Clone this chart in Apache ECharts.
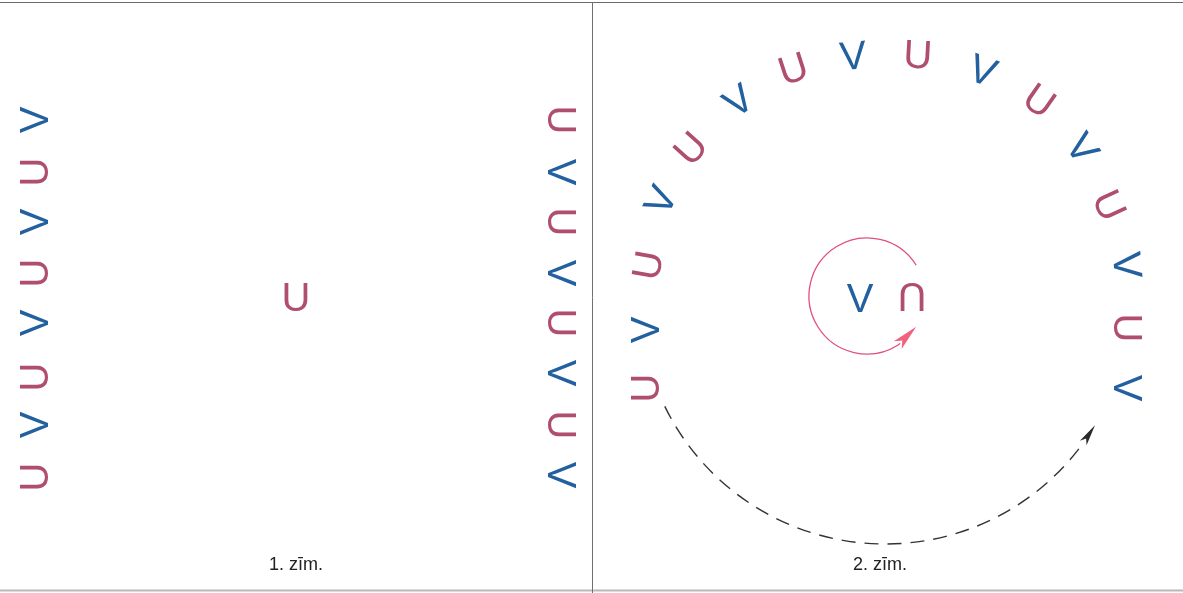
<!DOCTYPE html>
<html>
<head>
<meta charset="utf-8">
<script src="https://cdn.jsdelivr.net/npm/echarts@6/dist/echarts.min.js"></script>
<style>
html,body{margin:0;padding:0;background:#fff;}
#chart{width:1183px;height:593px;}
</style>
</head>
<body>
<div id="chart"></div>
<script>
// ---- Figure 1 ----
const fig1LeftLetters = ['V','U','V','U','V','U','V','U'];
const fig1LeftY = [120,172,222,273,323,377,425,477];
const fig1LeftX = 34;
const fig1LeftRotate = 90;

const fig1RightLetters = ['U','V','U','V','U','V','U','V'];
const fig1RightY = [120,172,222,273,323,373,425,475];
const fig1RightX = 562;
const fig1RightRotate = -90;

const fig1CenterLetters = ['U'];
const fig1CenterX = [296];
const fig1CenterY = [297];

// ---- Figure 2 ----
const ringLetters = ['U','V','U','V','U','V','U','V','U','V','U','V','U','V','U','V'];
const ringX = [645,645,647,660,690,738,793,853,918,983,1040,1083,1110,1128,1128,1128];
const ringY = [388,330,265,200,148,100,68,55,54,70,100,148,205,265,328,388];
const ringRotate = [90,90,80,65,48,35,18,5,-3,-20,-35,-55,-65,-85,-90,-90];

const innerLetters = ['V','U'];
const innerX = [860,912];
const innerY = [298,297];
const innerRotate = [0,180];

// arcs: centre, radius, start/end angle (deg, screen), arrow tip angle, arrow length angle
const arcCX = [867, 885];
const arcCY = [296, 299];
const arcR = [58, 245];
const arcStart = [-32, 154];
const arcEnd = [55, 36];
const arcTip = [32, 31];
const arcArrowSpan = [26, 5];
const arcKind = ['solid', 'dashed'];

const captions = ['1. zīm.', '2. zīm.'];
const captionX = [296, 880];
const captionY = [565, 565];

const BLUE = '#22609f';
const RED = '#b04e6e';

function letterItems(letters, xs, ys, rots) {
  return letters.map((l, i) => [
    Array.isArray(xs) ? xs[i] : xs,
    ys[i],
    Array.isArray(rots) ? rots[i] : rots,
    l === 'U' ? 1 : 0
  ]);
}

const letterData = []
  .concat(letterItems(fig1LeftLetters, fig1LeftX, fig1LeftY, fig1LeftRotate))
  .concat(letterItems(fig1RightLetters, fig1RightX, fig1RightY, fig1RightRotate))
  .concat(letterItems(fig1CenterLetters, fig1CenterX, fig1CenterY, 0))
  .concat(letterItems(ringLetters, ringX, ringY, ringRotate))
  .concat(letterItems(innerLetters, innerX, innerY, innerRotate));

const arcData = arcCX.map((cx, i) => [cx, arcCY[i], arcR[i], arcStart[i], arcEnd[i], arcTip[i], arcArrowSpan[i], i]);

const deg = Math.PI / 180;

const chart = echarts.init(document.getElementById('chart'), null, {renderer: 'canvas'});
chart.setOption({
  animation: false,
  backgroundColor: '#ffffff',
  grid: {left: 0, right: 0, top: 0, bottom: 0},
  xAxis: {type: 'value', min: 0, max: 1183, show: false},
  yAxis: {type: 'value', min: 0, max: 593, inverse: true, show: false},
  graphic: [
    {type: 'line', shape: {x1: 0, y1: 2.5, x2: 1183, y2: 2.5}, style: {stroke: '#6a6a6a', lineWidth: 1.2}, silent: true},
    {type: 'line', shape: {x1: 0, y1: 590.5, x2: 1183, y2: 590.5}, style: {stroke: '#b8b8b8', lineWidth: 2}, silent: true},
    {type: 'line', shape: {x1: 592.5, y1: 2, x2: 592.5, y2: 593}, style: {stroke: '#707070', lineWidth: 1}, silent: true}
  ].concat(captions.map((c, i) => ({
    type: 'text',
    x: captionX[i], y: captionY[i],
    style: {text: c, fill: '#222', font: '18px "Liberation Sans", Arial, sans-serif', align: 'center', verticalAlign: 'middle'},
    silent: true
  }))),
  series: [
    {
      type: 'custom',
      silent: true,
      coordinateSystem: 'cartesian2d',
      data: arcData,
      renderItem: function (params, api) {
        const c = api.coord([api.value(0), api.value(1)]);
        const r = api.size([api.value(2), 0])[0];
        const s = api.value(3) * deg, e = api.value(4) * deg;
        const tip = api.value(5) * deg, span = api.value(6) * deg;
        const idx = api.value(7);
        const dashed = arcKind[idx] === 'dashed';
        const color = dashed ? '#333333' : '#e0507a';
        const fill = dashed ? '#2a2a2a' : '#f0627e';
        const tipP = [c[0] + r * Math.cos(tip), c[1] + r * Math.sin(tip)];
        const baseA = tip + span;
        const baseP = [c[0] + r * Math.cos(baseA), c[1] + r * Math.sin(baseA)];
        const dx = tipP[0] - baseP[0], dy = tipP[1] - baseP[1];
        const len = Math.sqrt(dx * dx + dy * dy);
        const ux = dx / len, uy = dy / len;
        const nx = -uy, ny = ux;
        const w = dashed ? 4 : 5.5;
        const notch = len * 0.25;
        const pts = [
          tipP,
          [baseP[0] + nx * w, baseP[1] + ny * w],
          [baseP[0] + ux * notch, baseP[1] + uy * notch],
          [baseP[0] - nx * w, baseP[1] - ny * w]
        ];
        return {
          type: 'group',
          children: [
            {
              type: 'arc',
              shape: {cx: c[0], cy: c[1], r: r, startAngle: s, endAngle: e, clockwise: false},
              style: {stroke: color, fill: null, lineWidth: dashed ? 1.4 : 1.3, lineDash: dashed ? [14, 9] : null}
            },
            {
              type: 'polygon',
              shape: {points: pts},
              style: {fill: fill, stroke: null}
            }
          ]
        };
      }
    },
    {
      type: 'custom',
      silent: true,
      coordinateSystem: 'cartesian2d',
      data: letterData,
      renderItem: function (params, api) {
        const p = api.coord([api.value(0), api.value(1)]);
        const isU = api.value(3) === 1;
        return {
          type: 'text',
          x: p[0],
          y: p[1],
          rotation: api.value(2) * deg,
          style: {
            text: isU ? 'U' : 'V',
            x: 0,
            y: 3,
            fill: isU ? RED : BLUE,
            font: '40px "Liberation Sans", Arial, sans-serif',
            align: 'center',
            verticalAlign: 'middle'
          }
        };
      }
    }
  ]
});
</script>
</body>
</html>
